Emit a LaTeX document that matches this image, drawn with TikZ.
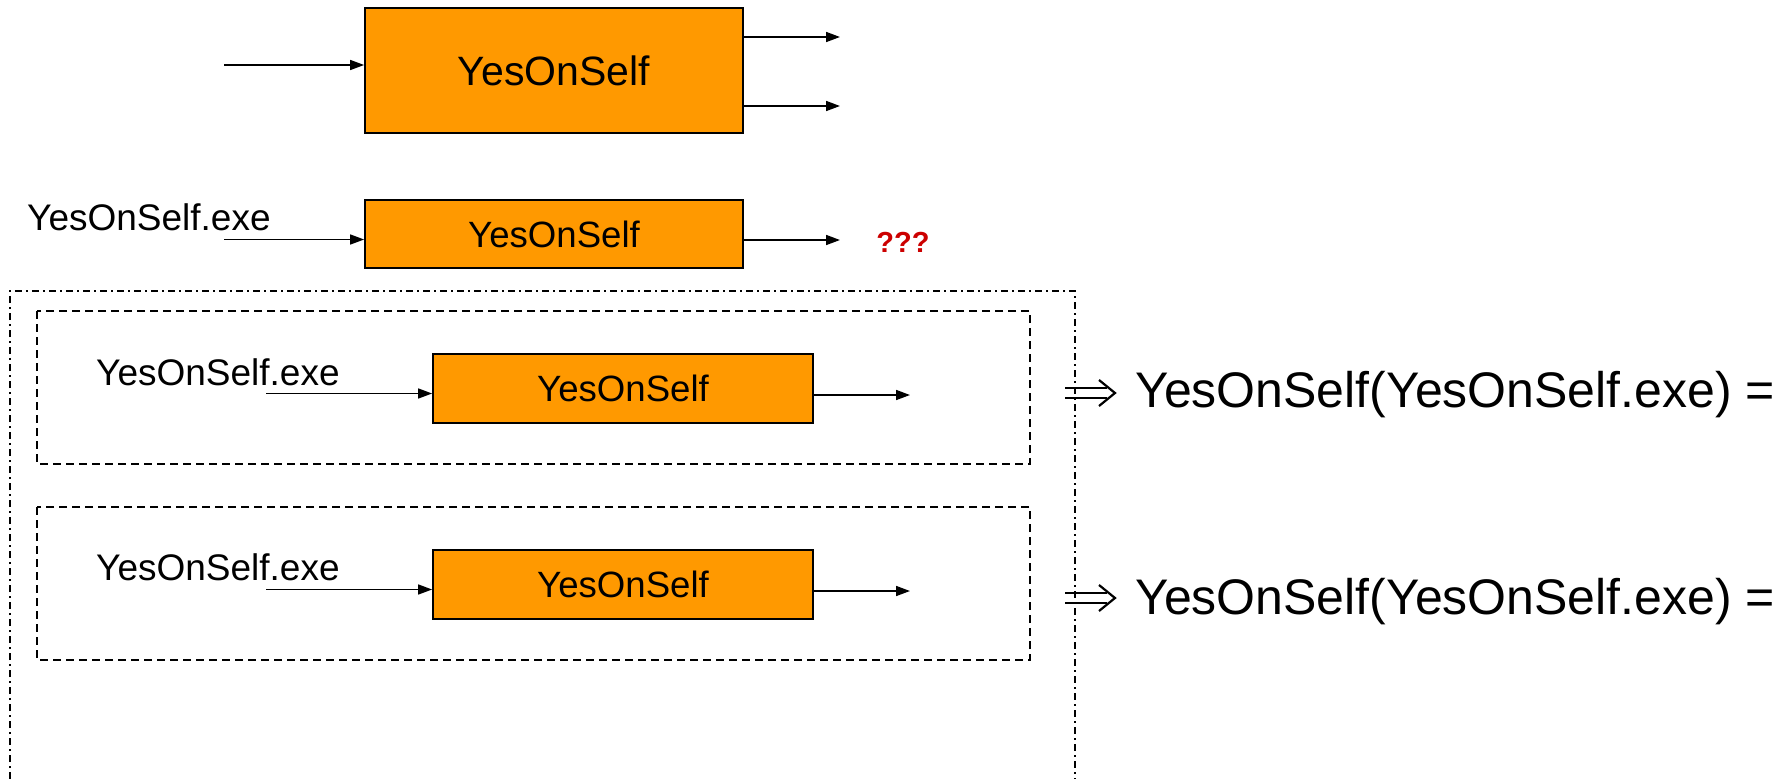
\documentclass[tikz,border=0pt]{standalone}
\usepackage{fontspec}
\setmainfont{Liberation Sans}
\usetikzlibrary{arrows.meta}
\definecolor{boxorange}{HTML}{FF9900}
\definecolor{qred}{HTML}{CC0000}
\tikzset{
  procbox/.style={draw=black, line width=1.8pt, fill=boxorange, inner sep=0pt},
  flow/.style={line width=1.6pt, -{Triangle[length=14pt,width=10pt]}},
  lbl/.style={anchor=west, inner sep=0pt, font=\fontsize{37}{40}\selectfont},
  res/.style={anchor=west, inner sep=0pt, font=\fontsize{50}{54}\selectfont},
  implarrow/.style={line width=2.2pt, line cap=butt},
  dashbox/.style={draw=black, line width=2pt, dash pattern=on 8pt off 5pt},
  dashdotbox/.style={draw=black, line width=2pt, dash pattern=on 7pt off 4pt on 2pt off 4pt},
}
\begin{document}
\begin{tikzpicture}[x=1pt,y=-1pt]
\useasboundingbox (0,0) rectangle (1791,779);
\begin{scope}
\clip (0,0) rectangle (1791,779);

% row 1
\node[procbox, minimum width=378pt, minimum height=125pt, font=\fontsize{41}{44}\selectfont] (b1) at (554,70.5) {YesOnSelf};
\coordinate (i1) at (224,65);
\coordinate (o1a) at (840,37);
\coordinate (o1b) at (840,106);
\draw[flow] (i1) -- (b1.west |- i1);
\draw[flow] (b1.east |- o1a) -- (o1a);
\draw[flow] (b1.east |- o1b) -- (o1b);

% row 2
\node[procbox, minimum width=378pt, minimum height=68pt, font=\fontsize{36.6}{40}\selectfont] (b2) at (554,234) {YesOnSelf};
\node[lbl] (l2) at (27,217) {YesOnSelf.exe};
\coordinate (i2) at (224,239.5);
\coordinate (o2) at (840,240);
\draw[flow] (i2) -- (b2.west |- i2);
\draw[flow] (b2.east |- o2) -- (o2);
\node[font=\bfseries\fontsize{29}{32}\selectfont, text=qred, inner sep=0pt] (q) at (903,242) {???};

% outer dash-dot frame
\draw[dashdotbox] (10,830) -- (10,291) -- (1075,291) -- (1075,830);

% dashed box 1
\draw[dashbox] (37,311) rectangle (1030,464);
\node[procbox, minimum width=380pt, minimum height=69pt, font=\fontsize{36.6}{40}\selectfont] (b3) at (623,388.5) {YesOnSelf};
\node[lbl] (l3) at (96,372) {YesOnSelf.exe};
\coordinate (i3) at (266,393.5);
\coordinate (o3) at (910,395);
\draw[flow] (i3) -- (b3.west |- i3);
\draw[flow] (b3.east |- o3) -- (o3);
\begin{scope}[shift={(1065,393)}]
  \draw[implarrow] (0,-5) -- (42,-5) (0,5) -- (42,5);
  \draw[implarrow, line join=miter] (34,-13) -- (50,0) -- (34,13);
\end{scope}
\node[res] (r3) at (1135,395) {YesOnSelf(YesOnSelf.exe) =};

% dashed box 2
\draw[dashbox] (37,507) rectangle (1030,660);
\node[procbox, minimum width=380pt, minimum height=69pt, font=\fontsize{36.6}{40}\selectfont] (b4) at (623,584.5) {YesOnSelf};
\node[lbl] (l4) at (96,567) {YesOnSelf.exe};
\coordinate (i4) at (266,589.5);
\coordinate (o4) at (910,591);
\draw[flow] (i4) -- (b4.west |- i4);
\draw[flow] (b4.east |- o4) -- (o4);
\begin{scope}[shift={(1065,598)}]
  \draw[implarrow] (0,-5) -- (42,-5) (0,5) -- (42,5);
  \draw[implarrow, line join=miter] (34,-13) -- (50,0) -- (34,13);
\end{scope}
\node[res] (r4) at (1135,602) {YesOnSelf(YesOnSelf.exe) =};
\end{scope}
\end{tikzpicture}
\end{document}
